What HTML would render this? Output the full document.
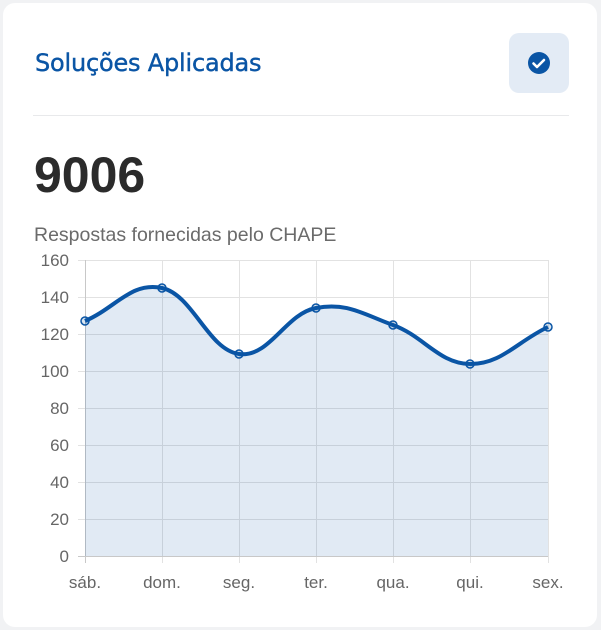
<!DOCTYPE html>
<html><head><meta charset="utf-8"><style>
body{margin:0;width:601px;height:630px;background:#f1f2f4;font-family:"Liberation Sans",sans-serif;overflow:hidden}
.card{position:absolute;left:3px;top:3px;width:594px;height:624px;background:#fff;border-radius:12px}
.title{position:absolute;left:32px;top:46px;font-size:24px;color:#0a55a5;font-family:"DejaVu Sans","Liberation Sans",sans-serif;letter-spacing:-0.2px;-webkit-text-stroke:0.4px #0a55a5}
.btn{position:absolute;left:506px;top:30px;width:60px;height:60px;background:#e3ebf5;border-radius:10px}
.hr{position:absolute;left:30px;top:112px;width:536px;height:1px;background:#e8e9eb}
.num{position:absolute;left:31px;top:143px;font-size:50px;font-weight:bold;color:#2b2b2b}
.sub{position:absolute;left:31px;top:221px;font-size:19.5px;color:#6b6b6b}
svg{position:absolute;left:0;top:0}
</style></head><body>
<div class="card">
<div class="title">Soluções Aplicadas</div>
<div class="btn"><svg width="60" height="60" style="position:absolute;left:0;top:0"><circle cx="30" cy="30" r="11" fill="#0a55a5"/><path d="M24.5 30.5l3.5 3.5 7-7" stroke="#fff" stroke-width="2.6" fill="none" stroke-linecap="round" stroke-linejoin="round"/></svg></div>
<div class="hr"></div>
<div class="num">9006</div>
<div class="sub">Respostas fornecidas pelo CHAPE</div>
</div>
<svg width="601" height="630">
<g stroke="#e2e2e2" stroke-width="1">
<line x1="78" y1="260.5" x2="548" y2="260.5"/><line x1="78" y1="297.5" x2="548" y2="297.5"/><line x1="78" y1="334.5" x2="548" y2="334.5"/><line x1="78" y1="371.5" x2="548" y2="371.5"/><line x1="78" y1="408.5" x2="548" y2="408.5"/><line x1="78" y1="445.5" x2="548" y2="445.5"/><line x1="78" y1="482.5" x2="548" y2="482.5"/><line x1="78" y1="519.5" x2="548" y2="519.5"/>
<line x1="162.5" y1="260" x2="162.5" y2="563"/><line x1="239.5" y1="260" x2="239.5" y2="563"/><line x1="316.5" y1="260" x2="316.5" y2="563"/><line x1="393.5" y1="260" x2="393.5" y2="563"/><line x1="470.5" y1="260" x2="470.5" y2="563"/><line x1="548.5" y1="260" x2="548.5" y2="563"/>
</g>
<line x1="85.5" y1="260" x2="85.5" y2="563" stroke="#c8c8c8"/>
<line x1="78" y1="556.5" x2="548" y2="556.5" stroke="#c8c8c8"/>
<path d="M85 321C115.8 307.8 131.2 281.4 162 288C192.8 294.6 208.2 350 239 354C269.8 358 285.2 313.8 316 308C346.8 302.2 362.2 313.8 393 325C423.8 336.2 439 363.6 470 364C501 364.4 516.8 341.8 548 327L548 556L85 556Z" fill="rgba(10,85,165,0.12)"/>
<path d="M85 321C115.8 307.8 131.2 281.4 162 288C192.8 294.6 208.2 350 239 354C269.8 358 285.2 313.8 316 308C346.8 302.2 362.2 313.8 393 325C423.8 336.2 439 363.6 470 364C501 364.4 516.8 341.8 548 327" fill="none" stroke="#0a55a5" stroke-width="4"/>
<g fill="rgba(10,85,165,0.15)" stroke="#0a55a5" stroke-width="1.5">
<circle cx="85" cy="321" r="4"/><circle cx="162" cy="288" r="4"/><circle cx="239" cy="354" r="4"/><circle cx="316" cy="308" r="4"/><circle cx="393" cy="325" r="4"/><circle cx="470" cy="364" r="4"/><circle cx="548" cy="327" r="4"/>
</g>
<g font-family="Liberation Sans, sans-serif" font-size="17" fill="#666" text-anchor="end">
<text x="69" y="266">160</text><text x="69" y="303">140</text><text x="69" y="340">120</text><text x="69" y="377">100</text><text x="69" y="414">80</text><text x="69" y="451">60</text><text x="69" y="488">40</text><text x="69" y="525">20</text><text x="69" y="562">0</text>
</g>
<g font-family="Liberation Sans, sans-serif" font-size="17" fill="#666" text-anchor="middle">
<text x="85" y="588">sáb.</text><text x="162" y="588">dom.</text><text x="239" y="588">seg.</text><text x="316" y="588">ter.</text><text x="393" y="588">qua.</text><text x="470" y="588">qui.</text><text x="548" y="588">sex.</text>
</g>
</svg>
</body></html>
